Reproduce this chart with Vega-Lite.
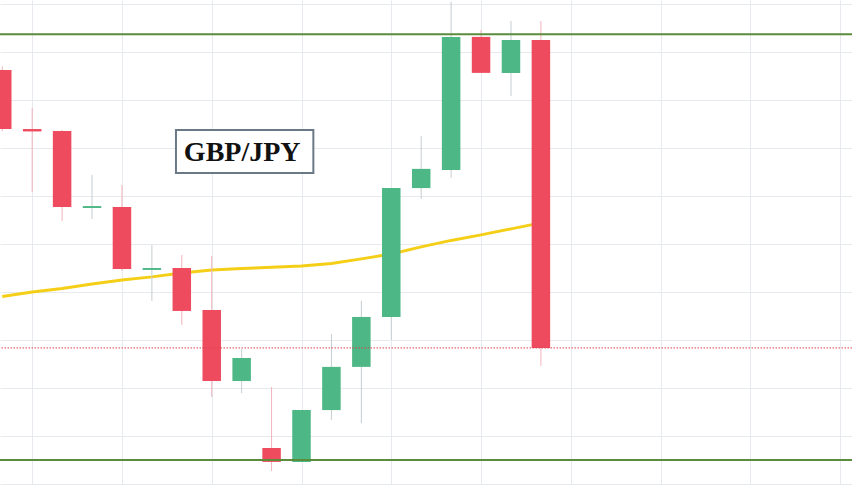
{
  "$schema": "https://vega.github.io/schema/vega-lite/v6.json",
  "autosize": {"type": "none"},
  "width": 852,
  "height": 485,
  "padding": 0,
  "background": "#ffffff",
  "config": {
    "view": {"stroke": null},
    "axis": {
      "labels": false, "ticks": false, "domain": false, "title": null,
      "grid": true, "gridColor": "#e6eaee", "gridWidth": 1,
      "minExtent": 0, "maxExtent": 0, "offset": 0
    }
  },
  "datasets": {
    "candles": [
      {"i": 0, "open": 151.725, "high": 151.74, "low": 151.47, "close": 151.479, "ma": 150.781},
      {"i": 1, "open": 151.479, "high": 151.567, "low": 151.217, "close": 151.469, "ma": 150.800},
      {"i": 2, "open": 151.471, "high": 151.475, "low": 151.096, "close": 151.154, "ma": 150.815},
      {"i": 3, "open": 151.150, "high": 151.288, "low": 151.104, "close": 151.158, "ma": 150.833},
      {"i": 4, "open": 151.154, "high": 151.246, "low": 150.888, "close": 150.896, "ma": 150.850},
      {"i": 5, "open": 150.892, "high": 150.996, "low": 150.763, "close": 150.900, "ma": 150.863},
      {"i": 6, "open": 150.900, "high": 150.954, "low": 150.663, "close": 150.721, "ma": 150.879},
      {"i": 7, "open": 150.725, "high": 150.950, "low": 150.363, "close": 150.429, "ma": 150.892},
      {"i": 8, "open": 150.429, "high": 150.563, "low": 150.379, "close": 150.525, "ma": 150.898},
      {"i": 9, "open": 150.150, "high": 150.404, "low": 150.054, "close": 150.092, "ma": 150.903},
      {"i": 10, "open": 150.092, "high": 150.308, "low": 150.092, "close": 150.308, "ma": 150.908},
      {"i": 11, "open": 150.308, "high": 150.625, "low": 150.267, "close": 150.488, "ma": 150.919},
      {"i": 12, "open": 150.488, "high": 150.763, "low": 150.254, "close": 150.696, "ma": 150.938},
      {"i": 13, "open": 150.696, "high": 151.233, "low": 150.600, "close": 151.233, "ma": 150.958},
      {"i": 14, "open": 151.233, "high": 151.450, "low": 151.188, "close": 151.313, "ma": 150.988},
      {"i": 15, "open": 151.308, "high": 152.010, "low": 151.275, "close": 151.863, "ma": 151.015},
      {"i": 16, "open": 151.863, "high": 151.892, "low": 151.713, "close": 151.713, "ma": 151.038},
      {"i": 17, "open": 151.713, "high": 151.929, "low": 151.617, "close": 151.850, "ma": 151.063},
      {"i": 18, "open": 151.850, "high": 151.929, "low": 150.492, "close": 150.567, "ma": 151.088}
    ],
    "levels": [
      {"level": 151.874, "kind": "resistance"},
      {"level": 150.100, "kind": "support"}
    ],
    "closeLevel": [
      {"level": 150.567}
    ],
    "label": [
      {"x1": 5.805, "x2": 10.396, "y1": 151.475, "y2": 151.296, "xt": 8.018, "yt": 151.347, "text": "GBP/JPY"}
    ]
  },
  "layer": [
    {
      "data": {"name": "candles"},
      "mark": {"type": "line", "color": "#f5cf17", "strokeWidth": 3, "clip": true},
      "encoding": {
        "x": {
          "field": "i", "type": "quantitative",
          "scale": {"domain": [0.0918, 28.229], "nice": false, "zero": false},
          "axis": {"values": [1, 4, 7, 10, 13, 16, 19, 22, 25, 28]}
        },
        "y": {
          "field": "ma", "type": "quantitative",
          "scale": {"domain": [149.99583, 152.01667], "nice": false, "zero": false},
          "axis": {"values": [150.0, 150.1, 150.2, 150.3, 150.4, 150.5, 150.6, 150.7, 150.8, 150.9, 151.0, 151.1, 151.2, 151.3, 151.4, 151.5, 151.6, 151.7, 151.8, 151.9, 152.0]}
        }
      }
    },
    {
      "data": {"name": "candles"},
      "mark": {"type": "rule", "strokeWidth": 1, "clip": true},
      "encoding": {
        "x": {"field": "i", "type": "quantitative"},
        "y": {"field": "low", "type": "quantitative"},
        "y2": {"field": "high"},
        "color": {
          "condition": {"test": "datum.open > datum.close", "value": "#f2b3bb"},
          "value": "#c5cdd3"
        }
      }
    },
    {
      "data": {"name": "candles"},
      "mark": {"type": "bar", "size": 18.5, "clip": true},
      "encoding": {
        "x": {"field": "i", "type": "quantitative"},
        "y": {"field": "open", "type": "quantitative"},
        "y2": {"field": "close"},
        "color": {
          "condition": {"test": "datum.open > datum.close", "value": "#ee4b5e"},
          "value": "#4db786"
        }
      }
    },
    {
      "data": {"name": "levels"},
      "mark": {"type": "rule", "color": "#5b8c3c", "strokeWidth": 2},
      "encoding": {
        "y": {"field": "level", "type": "quantitative"}
      }
    },
    {
      "data": {"name": "closeLevel"},
      "mark": {"type": "rule", "color": "#d9434f", "strokeWidth": 1, "strokeDash": [1.5, 1.5]},
      "encoding": {
        "y": {"field": "level", "type": "quantitative"}
      }
    },
    {
      "data": {"name": "label"},
      "mark": {"type": "rect", "fill": "#ffffff", "stroke": "#6b7986", "strokeWidth": 2},
      "encoding": {
        "x": {"field": "x1", "type": "quantitative"},
        "x2": {"field": "x2"},
        "y": {"field": "y1", "type": "quantitative"},
        "y2": {"field": "y2"}
      }
    },
    {
      "data": {"name": "label"},
      "mark": {"type": "text", "font": "Liberation Serif", "fontWeight": "bold", "fontSize": 28, "color": "#111111", "align": "center", "baseline": "alphabetic"},
      "encoding": {
        "x": {"field": "xt", "type": "quantitative"},
        "y": {"field": "yt", "type": "quantitative"},
        "text": {"field": "text"}
      }
    }
  ]
}
